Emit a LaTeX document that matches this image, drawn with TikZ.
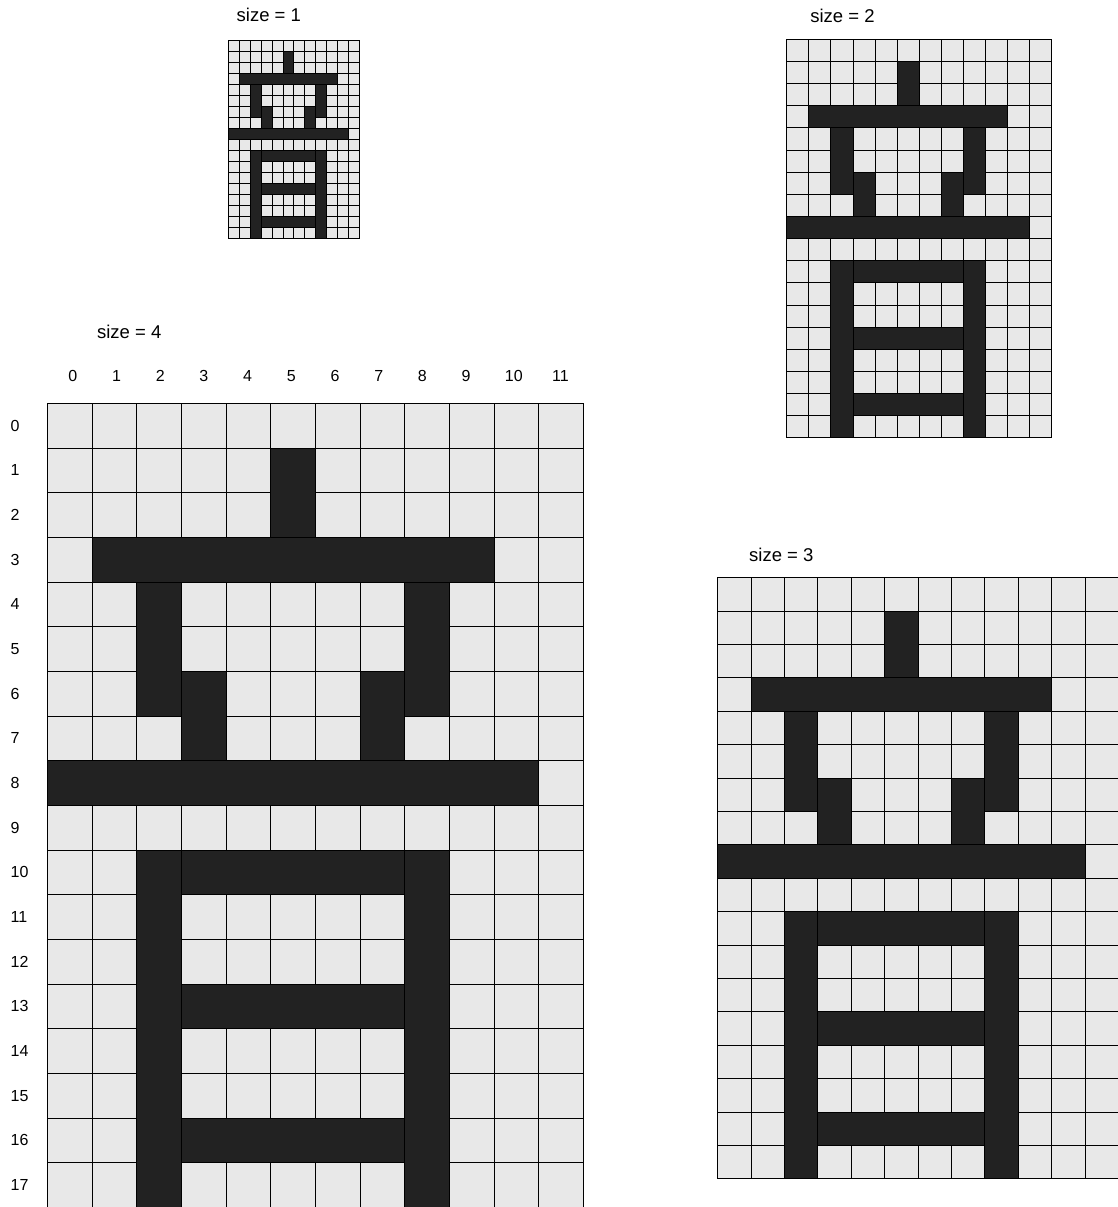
\documentclass[tikz,border=0pt]{standalone}
\usepackage{fontspec}
\setmainfont{Liberation Sans}
\definecolor{cellbg}{HTML}{E8E8E8}
\definecolor{cellink}{HTML}{222222}
% strokes: col0 row0 col1 row1 (inclusive cells)
\def\strokes{5/1/5/2, 1/3/9/3, 2/4/2/6, 8/4/8/6, 3/6/3/7, 7/6/7/7,
  0/8/10/8, 2/10/2/17, 8/10/8/17, 3/10/7/10, 3/13/7/13, 3/16/7/16}
% #1 ox, #2 oy, #3 cell width, #4 cell height
\newcommand\drawglyph[4]{%
  \foreach \r in {0,...,17}{%
    \foreach \c in {0,...,11}{%
      \filldraw[lightcell] (#1+\c*#3,#2+\r*#4) rectangle (#1+\c*#3+#3,#2+\r*#4+#4);
    }%
  }%
  \foreach \ca/\ra/\cb/\rb in \strokes{%
    \filldraw[darkcell] (#1+\ca*#3,#2+\ra*#4) rectangle (#1+\cb*#3+#3,#2+\rb*#4+#4);
  }%
}
\begin{document}
\begin{tikzpicture}[x=1pt,y=-1pt,
  darkcell/.style={fill=cellink,draw=black,line width=0.9pt},
  lightcell/.style={fill=cellbg,draw=black,line width=0.9pt},
  lbl/.style={inner sep=0pt,font=\fontsize{16}{19}\selectfont},
  ttl/.style={inner sep=0pt,font=\fontsize{18.5}{22}\selectfont}]
\useasboundingbox (0,0) rectangle (1118,1207);
% size = 1
\drawglyph{228.7}{40}{10.86}{11.02}
\node[ttl,anchor=base] (t1) at (268.8,22) {size = 1};
% size = 2
\drawglyph{786.7}{39.4}{22.1}{22.13}
\node[ttl,anchor=base] (t2) at (842.5,22.7) {size = 2};
% size = 3
\drawglyph{717.7}{577.7}{33.4}{33.4}
\node[ttl,anchor=base] (t3) at (781.3,561) {size = 3};
% size = 4
\drawglyph{47.3}{403.3}{44.67}{44.67}
\node[ttl,anchor=base] (t4) at (129.2,338.3) {size = 4};
\foreach \i in {0,...,9}{
  \node[lbl,anchor=base] (col\i) at (72.8+43.7*\i,381) {\i};
}
\node[lbl,anchor=base] (col10) at (513.8,381) {10};
\node[lbl,anchor=base] (col11) at (560.5,381) {11};
\foreach \i in {0,...,17}{
  \node[lbl,anchor=west] (row\i) at (10.5,403.3+44.67*\i+22.33) {\i};
}
\end{tikzpicture}
\end{document}
